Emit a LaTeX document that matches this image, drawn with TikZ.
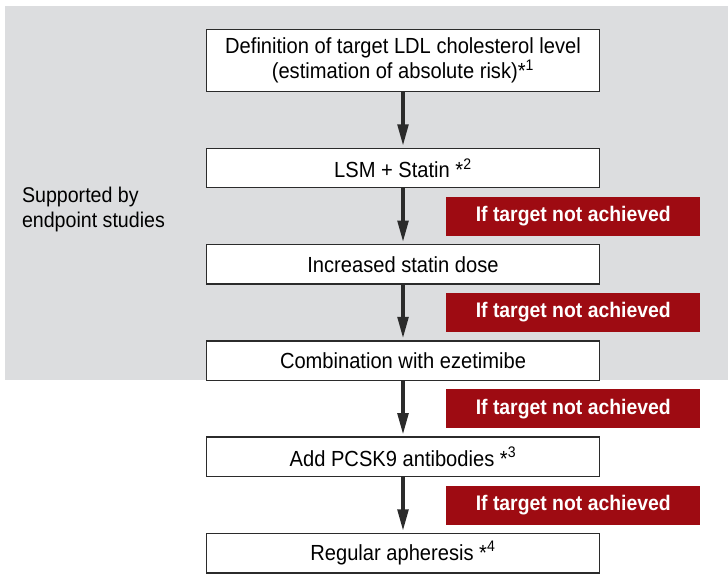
\documentclass[tikz,border=0pt]{standalone}
\usepackage{fontspec}
\setmainfont{Liberation Sans}[FakeStretch=0.92]
\usetikzlibrary{positioning, calc, arrows.meta}
\definecolor{panelgray}{HTML}{DCDDDF}
\definecolor{tagred}{HTML}{9E0B12}
\definecolor{edgegray}{HTML}{2B2B2B}

\begin{document}
\begin{tikzpicture}[node distance=41.6pt, >={Triangle[width=8pt,length=16pt]},
    stepbox/.style={draw=edgegray, line width=1pt, rectangle, fill=white, minimum width=294.75pt, minimum height=29.6pt, inner sep=0pt, align=center, font=\fontsize{16.4}{16.3}\selectfont},
    failtag/.style={rectangle, fill=tagred, text=white, minimum width=190.5pt, minimum height=29.25pt, inner sep=0pt, font=\fontsize{15.8}{16}\selectfont\bfseries},
    flow/.style={->, line width=2.5pt, draw=edgegray, fill=edgegray, shorten >=1.5pt}]
\useasboundingbox (0,0) rectangle (546pt,-435.75pt);

% shaded area for the steps backed by endpoint studies
\fill[panelgray] (3.75pt,-4.5pt) rectangle (546pt,-285pt);
\node[anchor=west, align=left, inner sep=0pt, font=\fontsize{16}{18.75}\selectfont] (studies) at (16.3pt,-156.75pt) {Supported by\\endpoint studies};

\node[stepbox, minimum height=46.5pt] (target) at (302.25pt,-45.4pt) {Definition of target LDL cholesterol level\\(estimation of absolute risk)*\textsuperscript{1}};
\node[stepbox, below=of target] (statin) {LSM + Statin *\textsuperscript{2}};
\node[stepbox, below=of statin] (dose) {Increased statin dose};
\node[stepbox, below=of dose] (ezetimibe) {Combination with ezetimibe};
\node[stepbox, below=of ezetimibe] (pcsk) {Add PCSK9 antibodies *\textsuperscript{3}};
\node[stepbox, below=of pcsk] (apheresis) {Regular apheresis *\textsuperscript{4}};

\node[failtag, anchor=west] (miss1) at ($(statin.south)!0.5!(dose.north) + (32.25pt,0)$) {If target not achieved};
\node[failtag, anchor=west] (miss2) at ($(dose.south)!0.5!(ezetimibe.north) + (32.25pt,0)$) {If target not achieved};
\node[failtag, anchor=west] (miss3) at ($(ezetimibe.south)!0.5!(pcsk.north) + (32.25pt,0)$) {If target not achieved};
\node[failtag, anchor=west] (miss4) at ($(pcsk.south)!0.5!(apheresis.north) + (32.25pt,0)$) {If target not achieved};

\draw[flow] (target.south) -- (statin.north);
\draw[flow] (statin.south) -- (dose.north);
\draw[flow] (dose.south) -- (ezetimibe.north);
\draw[flow] (ezetimibe.south) -- (pcsk.north);
\draw[flow] (pcsk.south) -- (apheresis.north);

\end{tikzpicture}
\end{document}
